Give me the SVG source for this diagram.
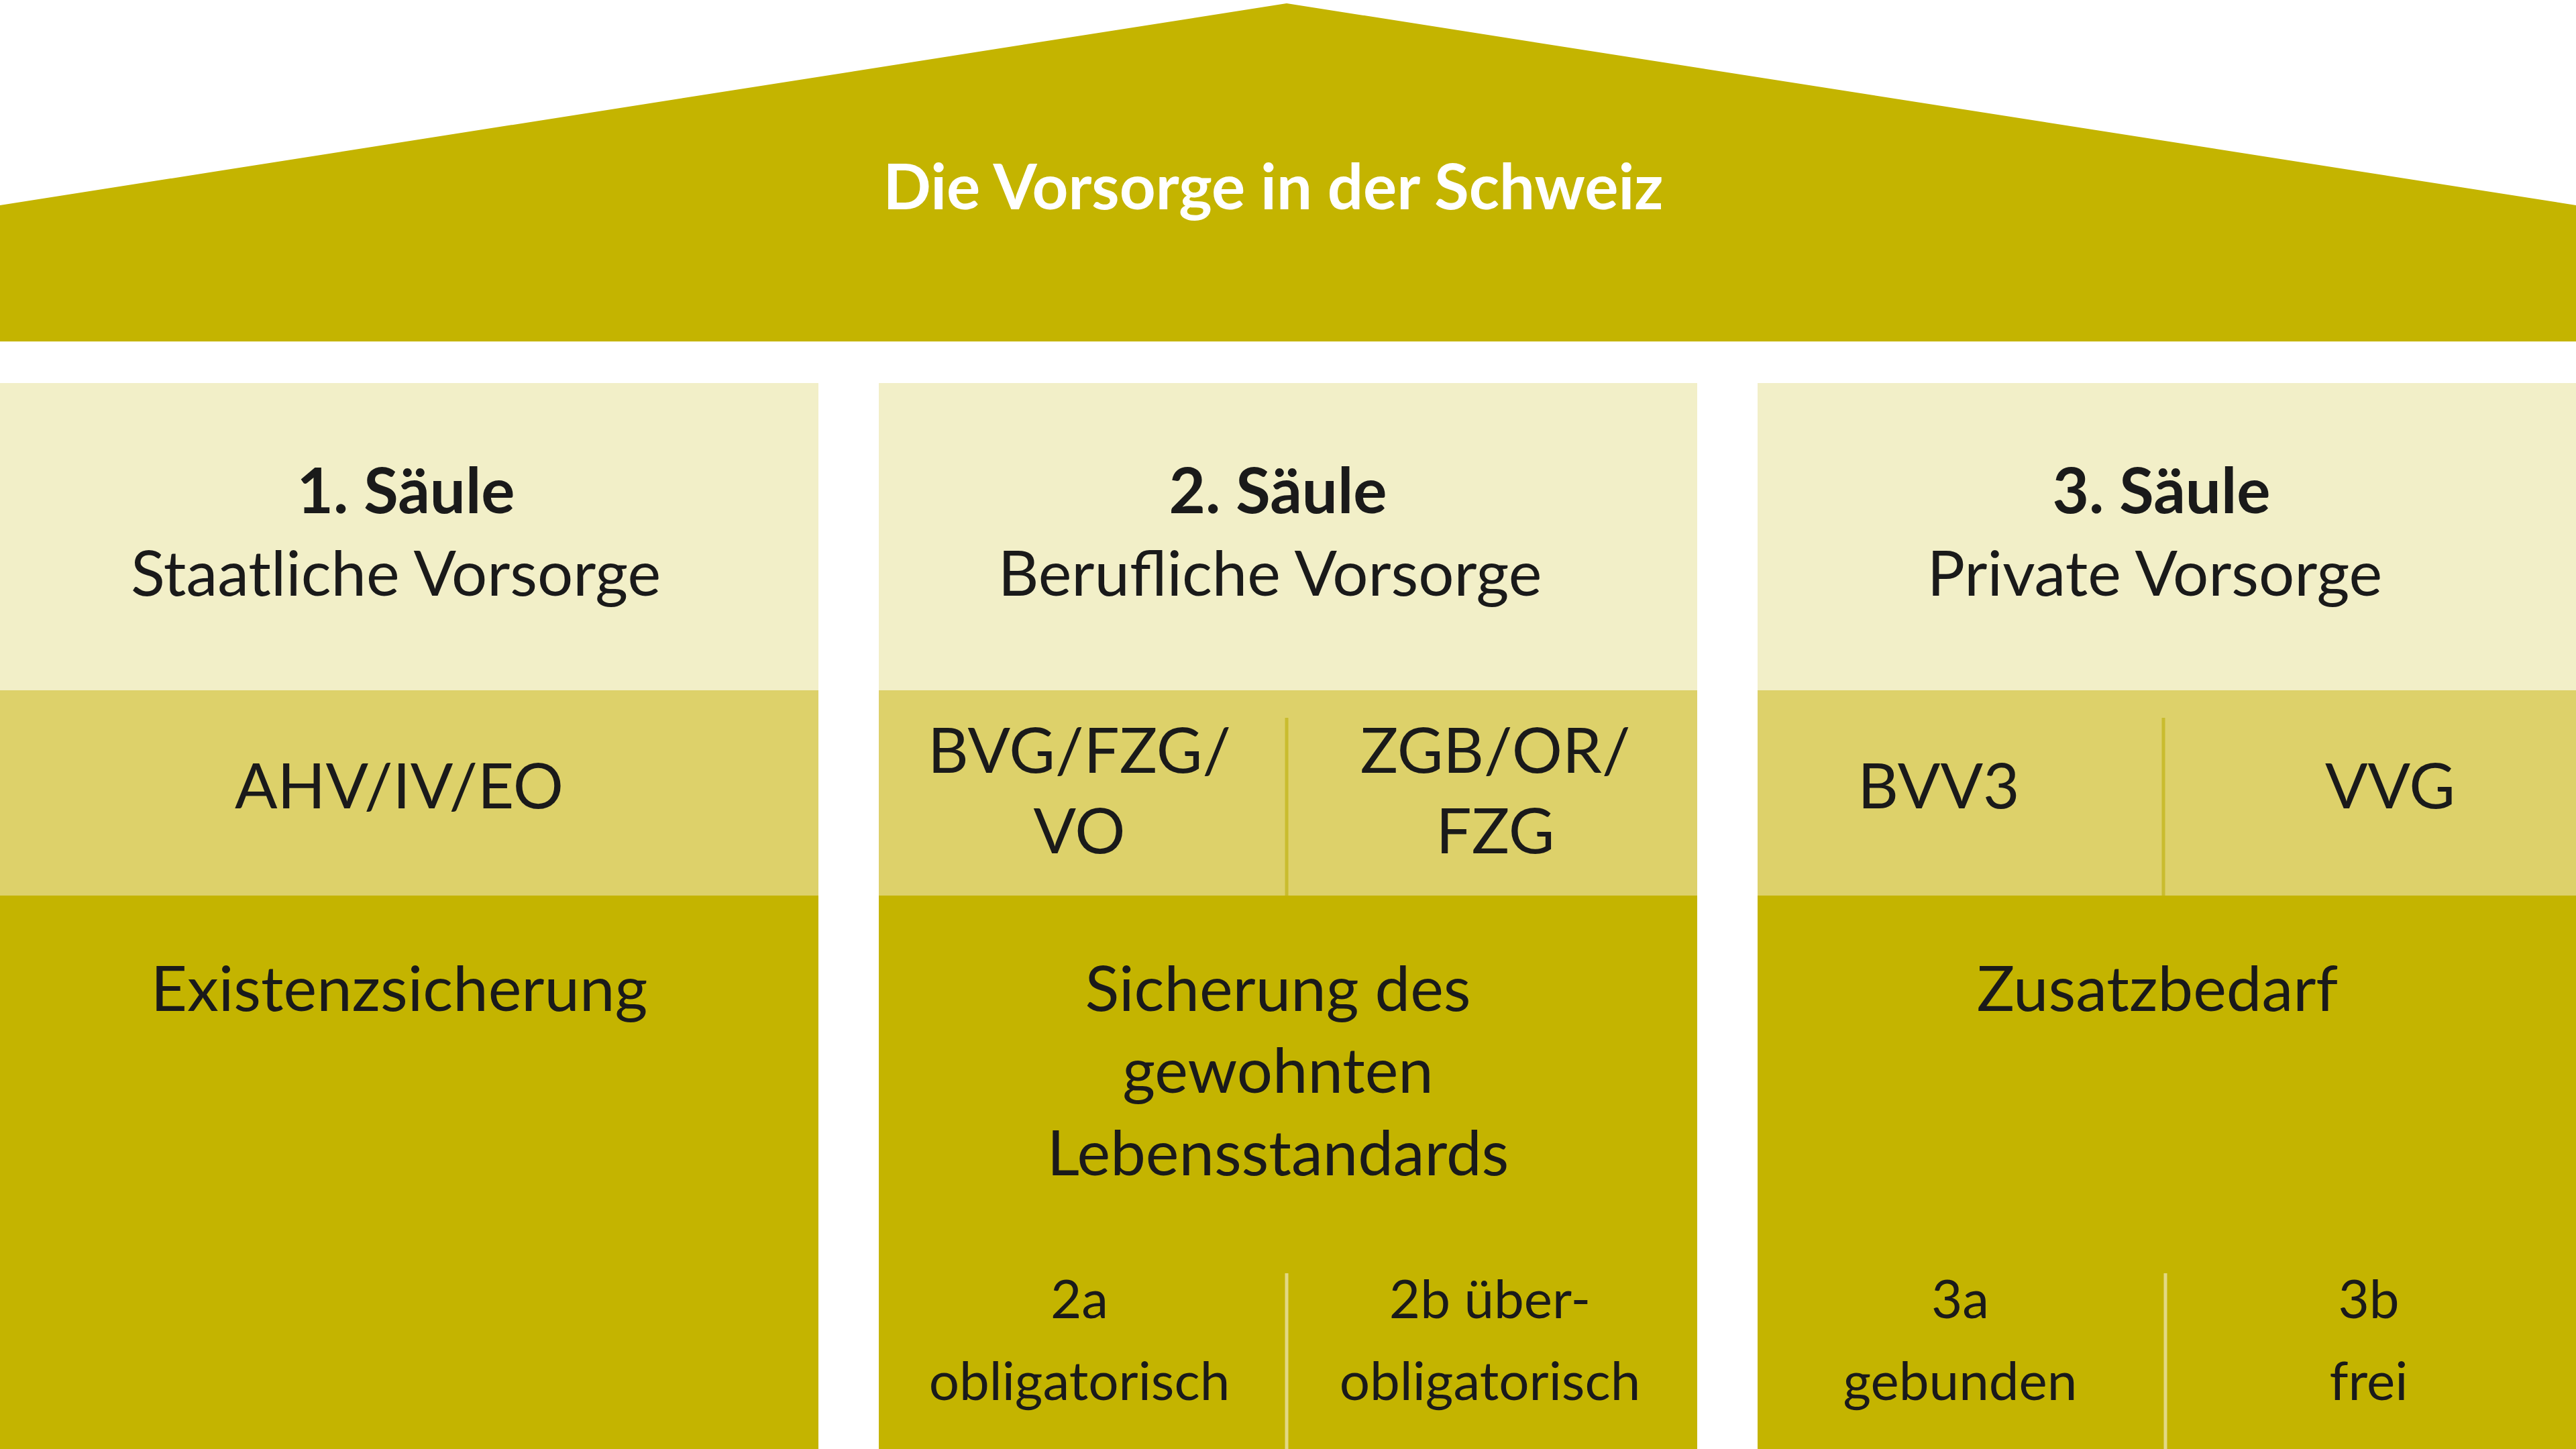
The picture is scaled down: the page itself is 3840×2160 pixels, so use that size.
<svg xmlns="http://www.w3.org/2000/svg" width="3840" height="2160" viewBox="0 0 3840 2160">
<style>
text{font-family:Lato,"Liberation Sans",sans-serif;fill:#1a1a1a;text-anchor:middle}
.h{font-weight:bold;font-size:94px}
.t{font-size:94px}
.s{font-size:80px}
.light{fill:#F2EFC8}.mid{fill:#DDD16A}.dark{fill:#C4B400}
.dv{stroke:#C9BC2E;stroke-width:5}
.db{stroke:#E2D884;stroke-width:5}
</style>
<rect width="3840" height="2160" fill="#fff"/>
<g id="roof">
<polygon class="dark" points="0,306 1918,5 3840,306 3840,509 0,509"/>
<text x="1898" y="312" class="h" style="fill:#fff">Die Vorsorge in der Schweiz</text>
</g>
<g id="col1">
<rect class="light" x="0" y="571" width="1220" height="458"/>
<rect class="mid" x="0" y="1029" width="1220" height="306"/>
<rect class="dark" x="0" y="1335" width="1220" height="825"/>
<text x="605" y="765" class="h">1. Säule</text>
<text x="590" y="888" class="t">Staatliche Vorsorge</text>
<text x="595" y="1205" class="t">AHV/IV/EO</text>
<text x="595" y="1507" class="t">Existenzsicherung</text>
</g>
<g id="col2">
<rect class="light" x="1310" y="571" width="1220" height="458"/>
<rect class="mid" x="1310" y="1029" width="1220" height="306"/>
<rect class="dark" x="1310" y="1335" width="1220" height="825"/>
<text x="1905" y="765" class="h">2. Säule</text>
<text x="1893" y="888" class="t">Berufliche Vorsorge</text>
<text x="1609" y="1152" class="t">BVG/FZG/</text>
<text x="1609" y="1272" class="t">VO</text>
<text x="2229" y="1152" class="t">ZGB/OR/</text>
<text x="2229" y="1272" class="t">FZG</text>
<line class="dv" x1="1918" y1="1070" x2="1918" y2="1335"/>
<text x="1905" y="1507" class="t">Sicherung des</text>
<text x="1905" y="1629" class="t">gewohnten</text>
<text x="1905" y="1752" class="t">Lebensstandards</text>
<line class="db" x1="1918" y1="1898" x2="1918" y2="2160"/>
<text x="1609" y="1965" class="s">2a</text>
<text x="1609" y="2087" class="s">obligatorisch</text>
<text x="2221" y="1965" class="s">2b über-</text>
<text x="2221" y="2087" class="s">obligatorisch</text>
</g>
<g id="col3">
<rect class="light" x="2620" y="571" width="1220" height="458"/>
<rect class="mid" x="2620" y="1029" width="1220" height="306"/>
<rect class="dark" x="2620" y="1335" width="1220" height="825"/>
<text x="3222" y="765" class="h">3. Säule</text>
<text x="3212" y="888" class="t">Private Vorsorge</text>
<text x="2890" y="1205" class="t">BVV3</text>
<text x="3563" y="1205" class="t">VVG</text>
<line class="dv" x1="3225" y1="1070" x2="3225" y2="1335"/>
<text x="3216" y="1507" class="t">Zusatzbedarf</text>
<line class="db" x1="3228" y1="1898" x2="3228" y2="2160"/>
<text x="2922" y="1965" class="s">3a</text>
<text x="2922" y="2087" class="s">gebunden</text>
<text x="3531" y="1965" class="s">3b</text>
<text x="3531" y="2087" class="s">frei</text>
</g>
<g id="connectors"/>
</svg>
